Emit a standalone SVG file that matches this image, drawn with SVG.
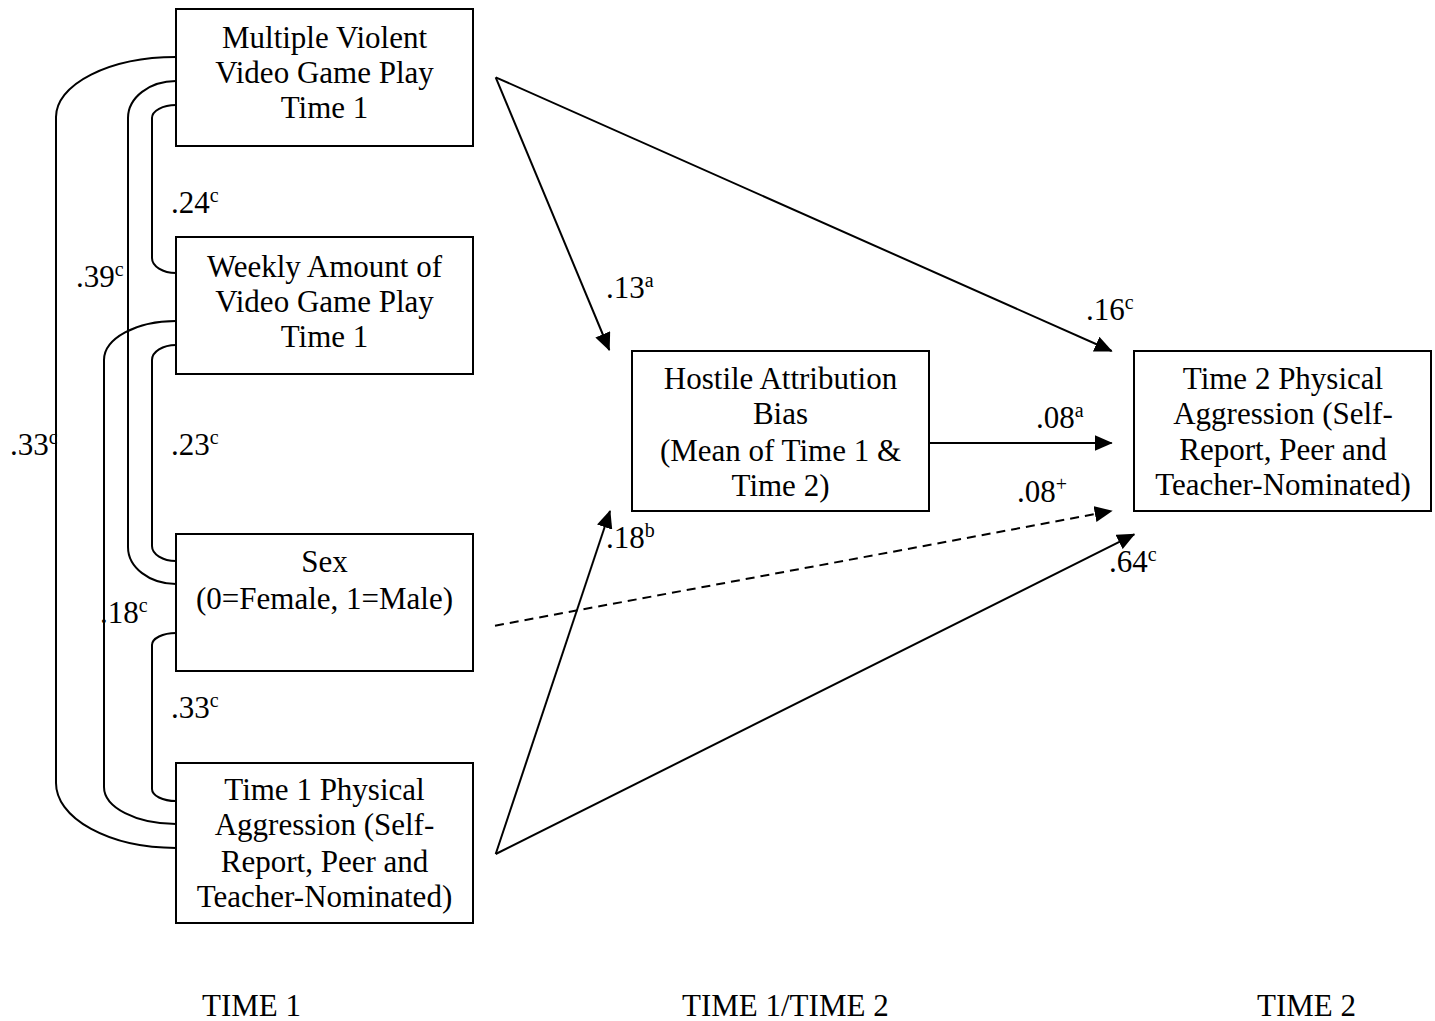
<svg xmlns="http://www.w3.org/2000/svg" width="1435" height="1021" viewBox="0 0 1435 1021">
<defs>
<style>
text{font-family:"Liberation Serif","Times New Roman",serif;fill:#000;}
.t{font-size:31px;text-anchor:middle;}
.l{font-size:31px;}
.s{font-size:20px;}
.b{fill:#fff;stroke:#000;stroke-width:2;}
.c{fill:none;stroke:#000;stroke-width:2;}
.a{fill:none;stroke:#000;stroke-width:2;marker-end:url(#ah);}
.d{stroke-dasharray:9 6;}
</style>
<marker id="ah" markerUnits="userSpaceOnUse" markerWidth="18" markerHeight="16" refX="17" refY="8" orient="auto">
<path d="M0,0 L18,8 L0,16 z" fill="#000"/>
</marker>
</defs>
<rect width="1435" height="1021" fill="#fff"/>
<g id="connectors">
<path class="c" d="M176,57 A120,60 0 0 0 56,117 V783 A120,65 0 0 0 176,848"/>
<path class="c" d="M176,81 A48,37 0 0 0 128,118 V547 A48,37 0 0 0 176,584"/>
<path class="c" d="M176,105 A24,13 0 0 0 152,118 V258 A24,15 0 0 0 176,273"/>
<path class="c" d="M176,321 A72,39 0 0 0 104,360 V787 A72,37 0 0 0 176,824"/>
<path class="c" d="M176,345 A24,15 0 0 0 152,360 V546 A24,15 0 0 0 176,561"/>
<path class="c" d="M176,633 A24,12 0 0 0 152,645 V789 A24,12 0 0 0 176,801"/>
<line class="a" x1="495.7" y1="77.3" x2="609.3" y2="350"/>
<line class="a" x1="495.7" y1="77.3" x2="1111.7" y2="351"/>
<line class="a" x1="929" y1="443" x2="1111.7" y2="443"/>
<line class="a d" x1="495" y1="625.7" x2="1111.7" y2="511"/>
<line class="a" x1="495.7" y1="854" x2="610" y2="511"/>
<line class="a" x1="495.7" y1="854" x2="1134.3" y2="534.3"/>
</g>
<g id="node-mvvg">
<rect class="b" x="176" y="9" width="297" height="137"/>
<text class="t" x="324.5" y="48">Multiple Violent</text>
<text class="t" x="324.5" y="83">Video Game Play</text>
<text class="t" x="324.5" y="118">Time 1</text>
</g>
<g id="node-weekly">
<rect class="b" x="176" y="237" width="297" height="137"/>
<text class="t" x="324.5" y="277">Weekly Amount of</text>
<text class="t" x="324.5" y="312">Video Game Play</text>
<text class="t" x="324.5" y="347">Time 1</text>
</g>
<g id="node-sex">
<rect class="b" x="176" y="534" width="297" height="137"/>
<text class="t" x="324.5" y="572">Sex</text>
<text class="t" x="324.5" y="609">(0=Female, 1=Male)</text>
</g>
<g id="node-t1pa">
<rect class="b" x="176" y="763" width="297" height="160"/>
<text class="t" x="324.5" y="800">Time 1 Physical</text>
<text class="t" x="324.5" y="835">Aggression (Self-</text>
<text class="t" x="324.5" y="872">Report, Peer and</text>
<text class="t" x="324.5" y="907">Teacher-Nominated)</text>
</g>
<g id="node-hab">
<rect class="b" x="632" y="351" width="297" height="160"/>
<text class="t" x="780.5" y="389">Hostile Attribution</text>
<text class="t" x="780.5" y="424">Bias</text>
<text class="t" x="780.5" y="461">(Mean of Time 1 &amp;</text>
<text class="t" x="780.5" y="496">Time 2)</text>
</g>
<g id="node-t2pa">
<rect class="b" x="1134" y="351" width="297" height="160"/>
<text class="t" x="1283" y="389">Time 2 Physical</text>
<text class="t" x="1283" y="424">Aggression (Self-</text>
<text class="t" x="1283" y="460">Report, Peer and</text>
<text class="t" x="1283" y="495">Teacher-Nominated)</text>
</g>
<g id="labels">
<text class="l" x="171" y="213">.24<tspan class="s" dy="-11">c</tspan></text>
<text class="l" x="76" y="287">.39<tspan class="s" dy="-11">c</tspan></text>
<text class="l" x="10" y="455">.33<tspan class="s" dy="-11">c</tspan></text>
<text class="l" x="171" y="455">.23<tspan class="s" dy="-11">c</tspan></text>
<text class="l" x="100" y="623">.18<tspan class="s" dy="-11">c</tspan></text>
<text class="l" x="171" y="718">.33<tspan class="s" dy="-11">c</tspan></text>
<text class="l" x="606" y="298">.13<tspan class="s" dy="-11">a</tspan></text>
<text class="l" x="606" y="548">.18<tspan class="s" dy="-11">b</tspan></text>
<text class="l" x="1086" y="320">.16<tspan class="s" dy="-11">c</tspan></text>
<text class="l" x="1036" y="428">.08<tspan class="s" dy="-11">a</tspan></text>
<text class="l" x="1017" y="502">.08<tspan class="s" dy="-11">+</tspan></text>
<text class="l" x="1109" y="572">.64<tspan class="s" dy="-11">c</tspan></text>
</g>
<g id="time-labels">
<text class="l" x="202" y="1016">TIME 1</text>
<text class="l" x="682" y="1016">TIME 1/TIME 2</text>
<text class="l" x="1257" y="1016">TIME 2</text>
</g>
</svg>
